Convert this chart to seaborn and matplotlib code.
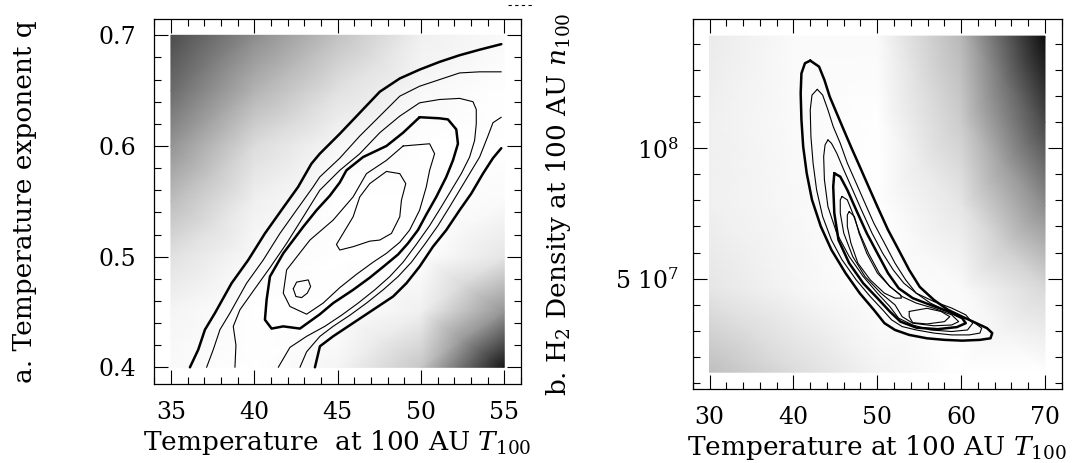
import matplotlib
matplotlib.use("Agg")
import matplotlib.pyplot as plt
from matplotlib.ticker import MultipleLocator, FixedLocator, FixedFormatter
from matplotlib.lines import Line2D
import pandas as pd
import seaborn as sns

# ---- panel a: T100 vs q ----
A_TEMPS = [35, 40, 45, 50, 55]
A_Q = [0.40, 0.45, 0.50, 0.55, 0.60, 0.65, 0.70]
# grey level of the background map, 0 = white, 1 = black (rows follow A_Q)
A_SHADE = [
    [0.02, 0.00, 0.04, 0.22, 0.92],
    [0.04, 0.00, 0.00, 0.06, 0.42],
    [0.12, 0.02, 0.00, 0.00, 0.10],
    [0.26, 0.06, 0.00, 0.00, 0.02],
    [0.42, 0.14, 0.03, 0.00, 0.00],
    [0.58, 0.30, 0.12, 0.03, 0.00],
    [0.70, 0.45, 0.24, 0.06, 0.02],
]

# contour lines, (T100, q)
A_OUTER_UP = [(36.14, 0.400), (36.64, 0.416), (37.04, 0.434), (37.64, 0.449), (38.64, 0.476),
              (39.64, 0.497), (40.64, 0.521), (41.63, 0.542), (42.63, 0.563), (43.43, 0.584),
              (43.93, 0.593), (45.13, 0.611), (46.33, 0.630), (47.53, 0.649), (48.73, 0.661),
              (49.92, 0.669), (51.12, 0.676), (52.32, 0.682), (53.52, 0.687), (54.82, 0.692)]
A_OUTER_LOW = [(43.64, 0.400), (43.94, 0.419), (44.73, 0.428), (45.93, 0.440), (47.13, 0.452),
               (48.33, 0.464), (49.13, 0.476), (49.92, 0.491), (50.72, 0.509), (51.52, 0.524),
               (52.32, 0.542), (53.02, 0.557), (53.72, 0.575), (54.32, 0.589), (54.82, 0.598)]
A_MID = [(49.92, 0.626), (51.12, 0.625), (51.62, 0.624), (52.12, 0.615), (52.22, 0.602),
         (51.92, 0.587), (51.52, 0.572), (50.92, 0.554), (50.32, 0.538), (49.82, 0.524),
         (49.22, 0.512), (48.63, 0.502), (47.83, 0.492), (46.93, 0.481), (45.93, 0.470),
         (44.73, 0.458), (43.94, 0.448), (42.74, 0.435), (41.74, 0.437), (41.04, 0.435),
         (40.64, 0.443), (40.74, 0.461), (40.94, 0.482), (41.74, 0.503), (42.94, 0.527),
         (43.74, 0.542), (44.53, 0.555), (45.13, 0.567), (45.53, 0.578), (46.53, 0.590),
         (47.93, 0.600), (48.93, 0.612), (49.92, 0.626)]
A_SECOND_UP = [(37.14, 0.400), (37.54, 0.416), (37.94, 0.434), (38.54, 0.449), (39.54, 0.476),
               (40.54, 0.497), (41.54, 0.521), (42.53, 0.542), (43.53, 0.563), (43.93, 0.572),
               (45.13, 0.589), (46.33, 0.609), (47.53, 0.627), (48.73, 0.645), (49.92, 0.654),
               (51.12, 0.660), (52.32, 0.666), (53.52, 0.667), (54.82, 0.667)]
A_SECOND_LOW = [(42.74, 0.400), (43.14, 0.414), (43.94, 0.428), (44.73, 0.437), (45.73, 0.447),
                (46.73, 0.458), (47.73, 0.470), (48.63, 0.482), (49.43, 0.495), (50.22, 0.511),
                (51.02, 0.528), (51.72, 0.545), (52.32, 0.560), (52.92, 0.575), (53.52, 0.590),
                (54.02, 0.609), (54.32, 0.621), (54.82, 0.626)]
A_THIRD = [(38.84, 0.400), (38.90, 0.420), (38.74, 0.437), (39.14, 0.452), (39.94, 0.469),
           (40.94, 0.490), (41.94, 0.512), (42.94, 0.536), (43.93, 0.560), (45.13, 0.578),
           (46.33, 0.593), (47.53, 0.612), (48.73, 0.627), (49.92, 0.639), (51.12, 0.642),
           (52.32, 0.643), (53.12, 0.640), (53.32, 0.633), (53.32, 0.620), (53.22, 0.605),
           (52.92, 0.590), (52.42, 0.575), (51.82, 0.560), (51.22, 0.545), (50.52, 0.528),
           (49.72, 0.511), (48.93, 0.495), (48.13, 0.482), (47.23, 0.470), (46.23, 0.458),
           (45.23, 0.447), (44.23, 0.437), (43.14, 0.428), (42.14, 0.418), (41.44, 0.400)]
A_INNER = [(48.93, 0.600), (50.52, 0.602), (50.82, 0.593), (50.52, 0.578), (50.32, 0.563),
           (49.92, 0.542), (49.32, 0.524), (48.73, 0.513), (47.93, 0.503), (47.13, 0.495),
           (46.13, 0.484), (45.13, 0.472), (44.13, 0.458), (43.14, 0.448), (42.14, 0.455),
           (41.74, 0.467), (41.94, 0.488), (43.34, 0.515), (44.73, 0.533), (45.93, 0.554),
           (46.73, 0.575), (47.93, 0.587), (48.93, 0.600)]
A_CORE = [(47.93, 0.577), (48.73, 0.575), (49.09, 0.566), (48.83, 0.551), (48.73, 0.536),
          (48.23, 0.521), (47.53, 0.515), (46.93, 0.514), (45.93, 0.509), (45.13, 0.506),
          (44.93, 0.511), (45.33, 0.521), (45.93, 0.536), (46.33, 0.554), (46.93, 0.566),
          (47.93, 0.577)]
A_SPOT = [(42.34, 0.471), (42.54, 0.477), (43.24, 0.479), (43.38, 0.473), (43.18, 0.467),
          (42.84, 0.463), (42.50, 0.464), (42.34, 0.471)]

# ---- panel b: T100 vs n100 (units of 1e7) ----
B_TEMPS = [30, 40, 50, 60, 70]
B_DENS = [1.41, 4.6, 7.8, 11.0, 14.3]
B_SHADE = [
    [0.25, 0.14, 0.05, 0.00, 0.00],
    [0.10, 0.04, 0.00, 0.02, 0.15],
    [0.06, 0.03, 0.00, 0.10, 0.45],
    [0.06, 0.02, 0.00, 0.20, 0.72],
    [0.08, 0.02, 0.02, 0.28, 0.95],
]
B_DENS_TICKS = [5, 10]
B_DENS_LABELS = ["5 10$^7$", "10$^8$"]

B_R1 = [(42.01, 13.36), (43.06, 13.13), (43.70, 12.62), (44.33, 11.98), (45.17, 11.34),
        (46.01, 10.70), (46.86, 10.06), (47.91, 9.30), (48.96, 8.53), (50.02, 7.76),
        (51.28, 6.87), (52.55, 6.10), (53.81, 5.33), (55.07, 4.68), (56.76, 4.18),
        (58.44, 3.80), (60.13, 3.54), (61.82, 3.29), (63.08, 3.10), (63.71, 2.91),
        (63.50, 2.71), (62.24, 2.65), (60.13, 2.62), (58.02, 2.65), (55.92, 2.71),
        (53.81, 2.84), (52.12, 3.03), (50.86, 3.29), (49.60, 3.80), (47.91, 4.44),
        (46.22, 5.21), (44.54, 6.10), (43.27, 7.00), (42.22, 8.02), (41.59, 9.04),
        (41.17, 10.06), (40.96, 11.09), (40.87, 12.11), (40.96, 12.87), (41.38, 13.26),
        (42.01, 13.36)]
B_R2 = [(42.85, 12.26), (43.49, 12.04), (44.12, 11.47), (44.75, 10.83), (45.59, 10.19),
        (46.43, 9.43), (47.49, 8.66), (48.54, 7.89), (49.60, 7.12), (50.86, 6.36),
        (52.12, 5.59), (53.39, 4.95), (54.65, 4.44), (56.34, 4.06), (58.02, 3.80),
        (59.71, 3.61), (61.39, 3.35), (62.45, 3.10), (62.24, 2.91), (60.97, 2.84),
        (58.87, 2.84), (56.76, 2.91), (54.65, 3.03), (52.97, 3.16), (51.70, 3.42),
        (50.65, 3.80), (49.17, 4.31), (47.49, 4.95), (45.80, 5.72), (44.54, 6.48),
        (43.49, 7.38), (42.77, 8.40), (42.35, 9.42), (42.09, 10.45), (42.01, 11.47),
        (42.22, 12.04), (42.85, 12.26)]
B_R3 = [(44.12, 10.32), (44.54, 10.19), (45.17, 9.81), (46.01, 9.17), (47.07, 8.40),
        (48.12, 7.63), (49.38, 6.74), (50.65, 5.97), (51.91, 5.33), (53.18, 4.82),
        (54.65, 4.44), (56.76, 4.12), (58.87, 3.87), (60.55, 3.61), (61.39, 3.29),
        (60.76, 3.03), (58.87, 2.97), (56.34, 3.03), (54.23, 3.22), (52.55, 3.48),
        (51.49, 3.93), (50.02, 4.44), (48.33, 5.08), (46.65, 5.85), (45.17, 6.74),
        (44.12, 7.76), (43.70, 8.79), (43.61, 9.68), (43.78, 10.13), (44.12, 10.32)]
B_R4 = [(44.88, 9.04), (45.59, 8.91), (46.43, 8.40), (47.49, 7.63), (48.75, 6.74),
        (50.02, 5.97), (51.28, 5.21), (52.55, 4.63), (54.23, 4.25), (56.34, 3.99),
        (58.44, 3.74), (60.13, 3.48), (60.55, 3.29), (59.50, 3.14), (57.18, 3.06),
        (54.65, 3.12), (52.76, 3.35), (51.49, 3.74), (50.02, 4.25), (48.33, 4.82),
        (46.65, 5.59), (45.38, 6.48), (44.88, 7.51), (44.75, 8.53), (44.88, 9.04)]
B_R5 = [(45.80, 8.15), (46.43, 8.02), (47.07, 7.51), (47.91, 6.74), (48.96, 5.97),
        (50.23, 5.21), (51.49, 4.70), (52.97, 4.31), (54.65, 4.06), (56.76, 3.86),
        (58.87, 3.61), (59.71, 3.35), (58.87, 3.22), (56.76, 3.19), (54.23, 3.29),
        (52.97, 3.54), (52.12, 3.99), (50.44, 4.44), (48.54, 5.08), (47.07, 5.85),
        (46.01, 6.74), (45.59, 7.51), (45.59, 8.02), (45.80, 8.15)]
B_R6 = [(46.65, 7.57), (47.28, 7.38), (47.83, 6.74), (48.75, 5.97), (50.02, 5.21),
        (51.49, 4.70), (52.76, 4.38), (52.88, 4.25), (52.12, 4.25), (50.86, 4.44),
        (49.17, 4.95), (47.70, 5.59), (46.86, 6.36), (46.43, 7.00), (46.43, 7.44),
        (46.65, 7.57)]
B_R7 = [(53.81, 3.74), (55.92, 3.86), (57.60, 3.74), (58.65, 3.54), (58.02, 3.35),
        (55.92, 3.26), (54.23, 3.31), (53.81, 3.54), (53.81, 3.74)]

THICK = 1.8
THIN = 0.8


def draw_contours(ax, lines, lw):
    """Draw each traced contour as an unsorted seaborn line."""
    for pts in lines:
        df = pd.DataFrame(pts, columns=["t", "v"])
        sns.lineplot(data=df, x="t", y="v", sort=False, estimator=None,
                     color="black", lw=lw, ax=ax, zorder=3)


def style_axes(ax):
    ax.tick_params(which="both", direction="in", top=True, right=True,
                   width=0.8, color="black", labelcolor="black", labelsize=17)
    ax.tick_params(which="major", length=10)
    ax.tick_params(which="minor", length=5)
    ax.tick_params(axis="x", pad=12)
    for sp in ax.spines.values():
        sp.set_visible(True)
        sp.set_color("black")
        sp.set_linewidth(0.9)


sns.set_theme(style="ticks")
plt.rcParams["font.family"] = ["DejaVu Serif"]
plt.rcParams["mathtext.fontset"] = "dejavuserif"
plt.rcParams["text.color"] = "black"
plt.rcParams["axes.labelcolor"] = "black"

fig = plt.figure(figsize=(10.75, 4.63), dpi=100)
ax_a = fig.add_axes([0.1435, 0.1708, 0.3411, 0.7888])
ax_b = fig.add_axes([0.6444, 0.1598, 0.3433, 0.7985])

# panel a
ax_a.pcolormesh(A_TEMPS, A_Q, A_SHADE, shading="gouraud", cmap="gray_r", vmin=0, vmax=1, zorder=1)
draw_contours(ax_a, [A_OUTER_UP, A_OUTER_LOW, A_MID], THICK)
draw_contours(ax_a, [A_SECOND_UP, A_SECOND_LOW, A_THIRD, A_INNER, A_CORE, A_SPOT], THIN)
ax_a.set_xlim(34, 56)
ax_a.set_ylim(0.385, 0.715)
ax_a.xaxis.set_major_locator(MultipleLocator(5))
ax_a.xaxis.set_minor_locator(MultipleLocator(1))
ax_a.yaxis.set_major_locator(MultipleLocator(0.1))
ax_a.yaxis.set_minor_locator(MultipleLocator(0.02))
style_axes(ax_a)
ax_a.tick_params(axis="y", pad=13)
ax_a.set_xlabel("Temperature  at 100 AU $T_{100}$", fontsize=19)
ax_a.set_ylabel("a. Temperature exponent q", fontsize=19)
ax_a.xaxis.set_label_coords(0.5, -0.12)
ax_a.yaxis.set_label_coords(-0.32, 0.5)

# panel b
ax_b.pcolormesh(B_TEMPS, B_DENS, B_SHADE, shading="gouraud", cmap="gray_r", vmin=0, vmax=1, zorder=1)
draw_contours(ax_b, [B_R1, B_R4], THICK)
draw_contours(ax_b, [B_R2, B_R3, B_R5, B_R6, B_R7], THIN)
ax_b.set_xlim(28, 72)
ax_b.set_ylim(0.765, 14.945)
ax_b.xaxis.set_major_locator(MultipleLocator(10))
ax_b.xaxis.set_minor_locator(MultipleLocator(2))
ax_b.yaxis.set_major_locator(FixedLocator(B_DENS_TICKS))
ax_b.yaxis.set_major_formatter(FixedFormatter(B_DENS_LABELS))
ax_b.yaxis.set_minor_locator(MultipleLocator(1))
style_axes(ax_b)
ax_b.tick_params(axis="y", pad=10)
ax_b.set_xlabel("Temperature at 100 AU $T_{100}$", fontsize=19)
ax_b.set_ylabel("b. H$_2$ Density at 100 AU $n_{100}$", fontsize=19)
ax_b.xaxis.set_label_coords(0.5, -0.12)
ax_b.yaxis.set_label_coords(-0.325, 0.5)

# stray dashes at the top of the original page
fig.add_artist(Line2D([0.4726, 0.4949], [0.989, 0.989], transform=fig.transFigure,
                      color="black", lw=0.8, ls=(0, (3, 3))))

fig.savefig("out.png", dpi=100)
